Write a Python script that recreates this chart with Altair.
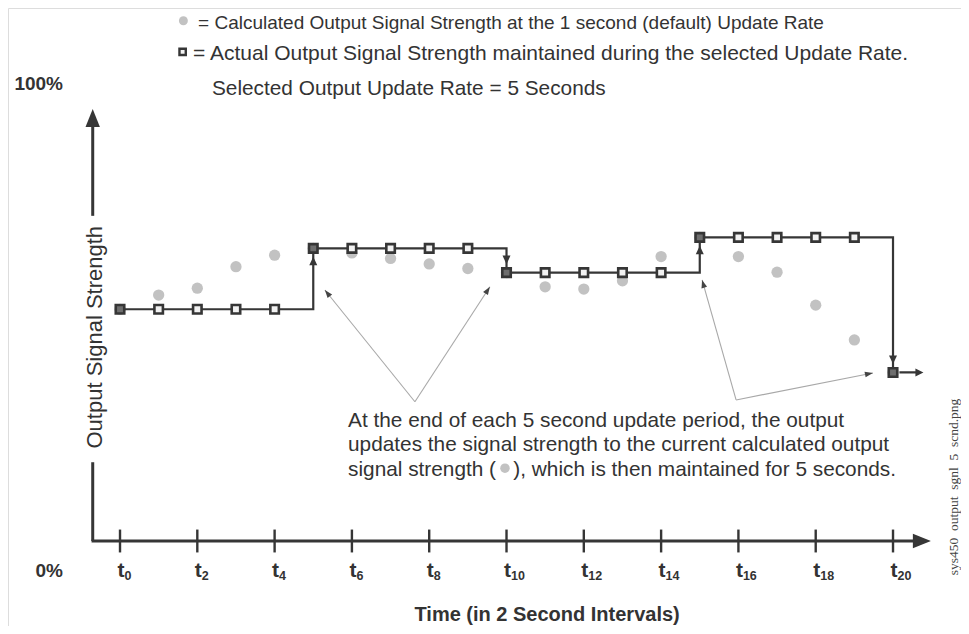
import math
import altair as alt
import pandas as pd

# ---------------- data ----------------
seconds = list(range(21))
calculated = [50.6, 53.7, 55.2, 59.9, 62.4, 63.9, 62.9, 61.7, 60.5, 59.5,
              58.6, 55.5, 55.0, 56.8, 62.1, 66.3, 62.1, 58.7, 51.5, 43.9, 36.8]
actual = [50.6, 50.6, 50.6, 50.6, 50.6, 63.9, 63.9, 63.9, 63.9, 63.9,
          58.6, 58.6, 58.6, 58.6, 58.6, 66.3, 66.3, 66.3, 66.3, 66.3, 36.8]
update_every = 5

tick_seconds = [0, 2, 4, 6, 8, 10, 12, 14, 16, 18, 20]
tick_subs = ["0", "2", "4", "6", "8", "10", "12", "14", "16", "18", "20"]

NB = "\u00a0"
legend_lines = [
    "= Calculated Output Signal Strength at the 1 second (default) Update Rate",
    "= Actual Output Signal Strength maintained during the selected Update Rate.",
    "Selected Output Update Rate = 5 Seconds",
]
note_text = ("At the end of each 5 second update period, the output\n"
             "updates the signal strength to the current calculated output\n"
             "signal strength (" + NB * 3 + "), which is then maintained for 5 seconds.")
y_title = "Output Signal Strength"
x_title = "Time (in 2 Second Intervals)"
file_label = NB.join(["sys450", "", "output", "", "sgnl", "", "5", "", "scnd.png"])

# annotation anchor points, in data units (seconds, percent)
pointer_from_s = [7.63, 7.63, 15.94, 15.94]
pointer_from_v = [30.4, 30.4, 30.8, 30.8]
pointer_to_s = [5.30, 9.57, 15.06, 19.48]
pointer_to_v = [54.8, 55.5, 57.0, 36.7]

# ---------------- layout ----------------
W, H = 953, 618
x_dom = [-2.898, 21.759]
y_dom = [-18.56, 116.38]
kx = W / (x_dom[1] - x_dom[0])
ky = H / (y_dom[1] - y_dom[0])

xs = alt.Scale(domain=x_dom, nice=False, zero=False)
ys = alt.Scale(domain=y_dom, nice=False, zero=False)
X = alt.X("x:Q", scale=xs, axis=None)
Y = alt.Y("y:Q", scale=ys, axis=None)

DARK = "#363636"
TEXT = "#333333"
CIRC = "#c2c2c2"
FONT = "Liberation Sans"

series = pd.DataFrame({"x": seconds, "calc": calculated, "y": actual})
series["upd"] = [s % update_every == 0 for s in seconds]
series["prev"] = [actual[max(i - 1, 0)] for i in range(len(actual))]

circles = alt.Chart(series).mark_circle(size=127, color=CIRC, opacity=1).encode(
    x=X, y=alt.Y("calc:Q", scale=ys, axis=None))

step = alt.Chart(series).mark_line(interpolate="step-after", color=DARK,
                                   strokeWidth=2.2).encode(x=X, y=Y)

squares_plain = alt.Chart(series).transform_filter("!datum.upd").mark_point(
    shape="square", size=72, filled=False, fill="#f2f2f2", fillOpacity=1,
    stroke=DARK, strokeWidth=2.6, opacity=1).encode(x=X, y=Y)
squares_upd = alt.Chart(series).transform_filter("datum.upd").mark_point(
    shape="square", size=72, filled=False, fill="#6e6e6e", fillOpacity=1,
    stroke=DARK, strokeWidth=2.6, opacity=1).encode(x=X, y=Y)

UP_HEAD = "M0,0.42L-0.2,0.85L0.2,0.85Z"
DOWN_HEAD = "M0,-0.42L-0.2,-0.85L0.2,-0.85Z"
heads_up = alt.Chart(series).transform_filter(
    "datum.upd && datum.y > datum.prev").mark_point(
    shape=UP_HEAD, size=1600, filled=True, color=DARK, opacity=1).encode(x=X, y=Y)
heads_down = alt.Chart(series).transform_filter(
    "datum.upd && datum.y < datum.prev").mark_point(
    shape=DOWN_HEAD, size=1600, filled=True, color=DARK, opacity=1).encode(x=X, y=Y)
TAIL = "M0.16,-0.028L0.56,-0.028L0.56,-0.1L0.76,0L0.56,0.1L0.56,0.028L0.16,0.028Z"
tail = alt.Chart(series).transform_filter(
    f"datum.x == {seconds[-1]}").mark_point(
    shape=TAIL, size=6400, filled=True, color=DARK, opacity=1).encode(x=X, y=Y)

# ---------------- axes drawn by hand ----------------
y_axis_s = -0.706
x_axis_end = 20.98
y_axis_top = 94.3
axes = pd.DataFrame({
    "x": [y_axis_s - 0.03, y_axis_s, y_axis_s],
    "x2": [x_axis_end - 0.3, y_axis_s, y_axis_s],
    "y": [0.0, 0.0, 71.0],
    "y2": [0.0, 17.2, y_axis_top - 2],
})
axis_rules = alt.Chart(axes).mark_rule(color=DARK, strokeWidth=3).encode(
    x=X, x2="x2:Q", y=Y, y2="y2:Q")
ax_heads = pd.DataFrame({"x": [y_axis_s, x_axis_end], "y": [y_axis_top, 0.0],
                         "k": ["up", "right"]})
y_head = alt.Chart(ax_heads).transform_filter("datum.k == 'up'").mark_point(
    shape="M0,0L-0.4,1L0.4,1Z", size=1296, filled=True, color=DARK, opacity=1
).encode(x=X, y=Y)
x_head = alt.Chart(ax_heads).transform_filter("datum.k == 'right'").mark_point(
    shape="M0,0L-1,-0.4L-1,0.4Z", size=1296, filled=True, color=DARK, opacity=1
).encode(x=X, y=Y)

tick_half = 2.5
ticks_df = pd.DataFrame({"x": tick_seconds, "sub": tick_subs,
                         "y": [0.0] * len(tick_seconds)})
ticks_df["top"] = tick_half
ticks_df["bot"] = -tick_half
tick_rules = alt.Chart(ticks_df).mark_rule(color=DARK, strokeWidth=2.4).encode(
    x=X, y=alt.Y("top:Q", scale=ys, axis=None), y2="bot:Q")
tick_t = alt.Chart(ticks_df).mark_text(
    text="t", font=FONT, fontSize=21, fontWeight="bold", color=TEXT,
    align="center", baseline="alphabetic", dx=1, dy=36).encode(x=X, y=Y)
tick_sub = alt.Chart(ticks_df).mark_text(
    font=FONT, fontSize=12.5, fontWeight="bold", color=TEXT,
    align="left", baseline="alphabetic", dx=4.5, dy=39).encode(
    x=X, y=Y, text="sub:N")


def label(s, v, txt, **kw):
    df = pd.DataFrame({"x": [s], "y": [v], "label": [txt]})
    base = dict(font=FONT, color=TEXT)
    base.update(kw)
    return alt.Chart(df).mark_text(**base).encode(x=X, y=Y, text="label:N")


pct0 = label(-1.475, 0.0, "0%", fontSize=19, fontWeight="bold",
             align="right", baseline="alphabetic", dy=36)
pct100 = label(-1.475, 100.0, "100%", fontSize=19,
               fontWeight="bold", align="right", baseline="middle", dy=1)
ytitle = label(-0.64, 44.5, y_title, fontSize=22, angle=270, align="center",
               baseline="middle")
xtitle = label(11.05, -17.5, x_title, fontSize=20, fontWeight="bold",
               align="center", baseline="alphabetic")
fname = label(21.58, 11.8, file_label, font="Liberation Serif", fontSize=13.5,
              color="#444444", angle=270, align="center", baseline="middle")

leg1 = label(2.02, 111.8, legend_lines[0], fontSize=19, align="left",
             baseline="alphabetic")
leg2 = label(1.89, 105.0, legend_lines[1], fontSize=21, align="left",
             baseline="alphabetic")
leg3 = label(2.38, 97.4, legend_lines[2], fontSize=20.8, align="left",
             baseline="alphabetic")
leg_circle = alt.Chart(pd.DataFrame({"x": [1.64], "y": [113.6]})).mark_circle(
    size=80, color=CIRC, opacity=1).encode(x=X, y=Y)
leg_square = alt.Chart(pd.DataFrame({"x": [1.62], "y": [106.8]})).mark_point(
    shape="square", size=40, filled=False, fill="#f2f2f2", fillOpacity=1,
    stroke=DARK, strokeWidth=2.4, opacity=1).encode(x=X, y=Y)

note = label(5.90, 24.9, note_text, fontSize=20.8, align="left",
             baseline="alphabetic", lineBreak="\n", lineHeight=24.5)
note_dot = alt.Chart(pd.DataFrame({"x": [9.96], "y": [15.9]})).mark_circle(
    size=90, color=CIRC, opacity=1).encode(x=X, y=Y)

ang = []
for fs, fv, ts, tv in zip(pointer_from_s, pointer_from_v, pointer_to_s, pointer_to_v):
    dxp = (ts - fs) * kx
    dyp = -(tv - fv) * ky
    ang.append(math.degrees(math.atan2(dxp, -dyp)) % 360)
ptr = pd.DataFrame({"x": pointer_from_s, "y": pointer_from_v,
                    "x2": pointer_to_s, "y2": pointer_to_v, "ang": ang})
ptr_lines = alt.Chart(ptr).mark_rule(color="#a8a8a8", strokeWidth=1.1).encode(
    x=X, y=Y, x2="x2:Q", y2="y2:Q")
ptr_heads = alt.Chart(ptr).mark_point(
    shape="M0,0L-0.36,1L0.36,1Z", size=256, filled=True, color="#444444",
    opacity=1).encode(x=alt.X("x2:Q", scale=xs, axis=None),
                      y=alt.Y("y2:Q", scale=ys, axis=None),
                      angle=alt.Angle("ang:Q", scale=None))

chart = alt.layer(
    axis_rules, y_head, x_head, tick_rules, tick_t, tick_sub,
    ptr_lines, ptr_heads,
    circles, step, squares_plain, squares_upd, heads_up, heads_down, tail,
    pct0, pct100, ytitle, xtitle, fname,
    leg_circle, leg_square, leg1, leg2, leg3, note, note_dot,
).properties(
    width=W, height=H, padding=0,
    autosize=alt.AutoSizeParams(type="none"),
).configure_view(stroke=None).configure(background="white")

chart.save("out.html", embed_options={"renderer": "svg", "actions": False})
